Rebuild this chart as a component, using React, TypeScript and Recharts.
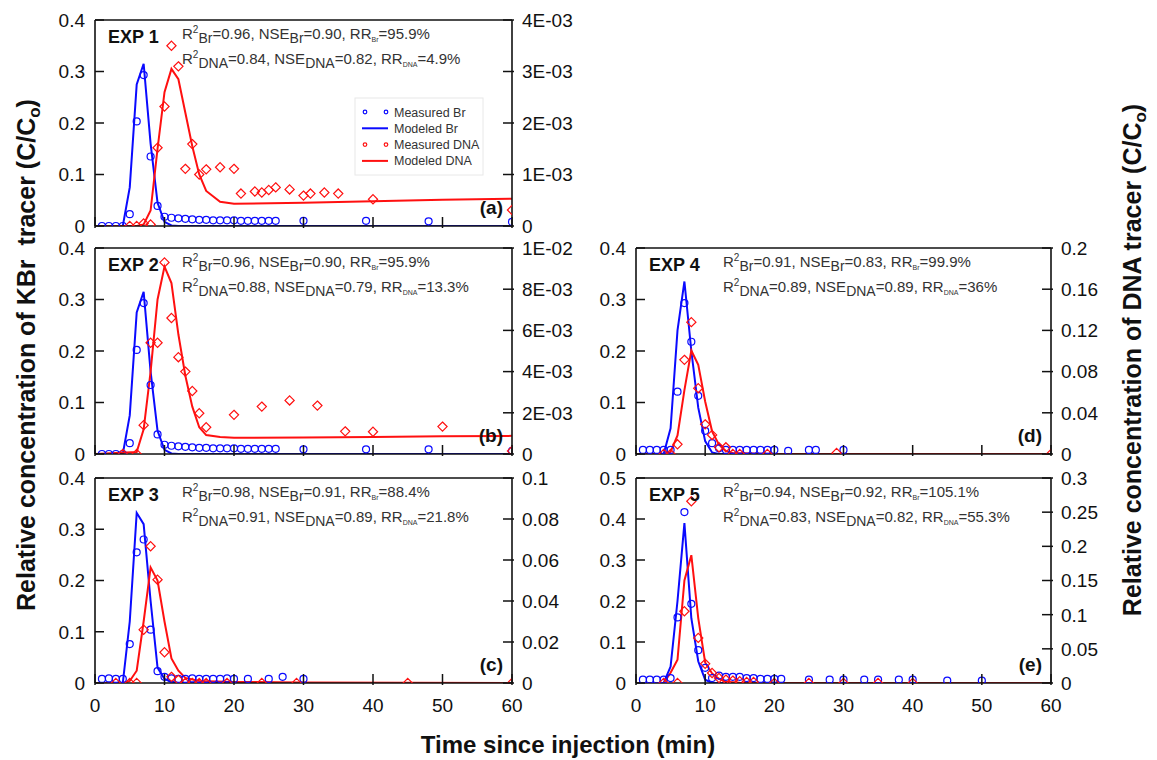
import React from "react";
import { ComposedChart, Line, Scatter, XAxis, YAxis, ReferenceLine } from "recharts";

type Pt = [number, number];

const FONT = '"Liberation Sans", Arial, Helvetica, sans-serif';
const BLUE = "#0a0aff";
const RED = "#ff1010";
const INK = "#111";

// time axis
const timeTicks = [0, 10, 20, 30, 40, 50, 60];

// KBr axis
const brTicks = [0, 0.1, 0.2, 0.3, 0.4];
const brTicksE = [0, 0.1, 0.2, 0.3, 0.4, 0.5];
const brLabels = ["0", "0.1", "0.2", "0.3", "0.4", "0.5"];

// DNA axis per panel
const dnaTicksA = [0, 0.001, 0.002, 0.003, 0.004];
const dnaLabelsA = ["0", "1E-03", "2E-03", "3E-03", "4E-03"];
const dnaTicksB = [0, 0.002, 0.004, 0.006, 0.008, 0.01];
const dnaLabelsB = ["0", "2E-03", "4E-03", "6E-03", "8E-03", "1E-02"];
const dnaTicksC = [0, 0.02, 0.04, 0.06, 0.08, 0.1];
const dnaLabelsC = ["0", "0.02", "0.04", "0.06", "0.08", "0.1"];
const dnaTicksD = [0, 0.04, 0.08, 0.12, 0.16, 0.2];
const dnaLabelsD = ["0", "0.04", "0.08", "0.12", "0.16", "0.2"];
const dnaTicksE = [0, 0.05, 0.1, 0.15, 0.2, 0.25, 0.3];
const dnaLabelsE = ["0", "0.05", "0.1", "0.15", "0.2", "0.25", "0.3"];

// EXP 1
const brObsA: Pt[] = [[1, 0], [2, 0], [3, 0], [4, 0], [5, 0.023], [6, 0.203], [7, 0.293], [8, 0.135], [9, 0.039], [10, 0.018], [11, 0.016], [12, 0.015], [13, 0.014], [14, 0.013], [15, 0.012], [16, 0.012], [17, 0.011], [18, 0.011], [19, 0.011], [20, 0.011], [21, 0.01], [22, 0.01], [23, 0.01], [24, 0.01], [25, 0.01], [26, 0.01], [30, 0.01], [39, 0.01], [48, 0.009], [60, 0.008]];
const brModA: Pt[] = [[0, 0], [4, 0], [5, 0.075], [6, 0.275], [7, 0.315], [8, 0.16], [9, 0.045], [10, 0.008], [11, 0.001], [12, 0], [60, 0]];
const dnaObsA: Pt[] = [[5, 0], [6, 0], [7, 0.00005], [8, 0.00003], [9, 0.00152], [10, 0.00232], [11, 0.0035], [12, 0.0031], [13, 0.00111], [14, 0.00159], [15, 0.001], [16, 0.0011], [18, 0.00114], [20, 0.00111], [21, 0.00063], [23, 0.00067], [24, 0.00065], [25, 0.0007], [26, 0.00075], [28, 0.00071], [30, 0.00059], [31, 0.00063], [33, 0.00065], [35, 0.00063], [40, 0.00052], [60, 0.00031]];
const dnaModA: Pt[] = [[0, 0], [6, 0], [7, 0.00003], [8, 0.0003], [9, 0.0015], [10, 0.0026], [11, 0.00305], [12, 0.00285], [13, 0.0022], [14, 0.00155], [15, 0.001], [16, 0.00068], [18, 0.00047], [20, 0.00043], [30, 0.00045], [40, 0.00048], [50, 0.00051], [60, 0.00053]];
const statsA = ["0.96", "0.90", "95.9%", "0.84", "0.82", "4.9%"];

// EXP 2
const brObsB: Pt[] = [[1, 0], [2, 0], [3, 0], [4, 0], [5, 0.021], [6, 0.202], [7, 0.293], [8, 0.134], [9, 0.038], [10, 0.018], [11, 0.016], [12, 0.015], [13, 0.014], [14, 0.013], [15, 0.012], [16, 0.012], [17, 0.011], [18, 0.011], [19, 0.011], [20, 0.011], [21, 0.01], [22, 0.01], [23, 0.01], [24, 0.01], [25, 0.01], [26, 0.01], [30, 0.009], [39, 0.009], [48, 0.009], [60, 0.006]];
const brModB: Pt[] = [[0, 0], [4, 0], [5, 0.075], [6, 0.275], [7, 0.315], [8, 0.16], [9, 0.045], [10, 0.008], [11, 0.001], [12, 0], [60, 0]];
const dnaObsB: Pt[] = [[4, 0], [6, 0], [7, 0.0014], [8, 0.0054], [9, 0.0054], [10, 0.0093], [11, 0.0066], [12, 0.0047], [13, 0.004], [14, 0.00306], [15, 0.00198], [16, 0.0013], [20, 0.0019], [24, 0.0023], [28, 0.0026], [32, 0.00235], [36, 0.0011], [40, 0.00108], [50, 0.00133], [60, 0.00015]];
const dnaModB: Pt[] = [[0, 0], [6, 0.0001], [7, 0.0012], [8, 0.004], [9, 0.0075], [10, 0.0091], [11, 0.0083], [12, 0.0058], [13, 0.0038], [14, 0.0023], [15, 0.0013], [16, 0.00092], [18, 0.00082], [20, 0.00079], [30, 0.0008], [40, 0.00083], [50, 0.00086], [60, 0.00088]];
const statsB = ["0.96", "0.90", "95.9%", "0.88", "0.79", "13.3%"];

// EXP 3
const brObsC: Pt[] = [[1, 0.008], [2, 0.009], [3, 0.008], [4, 0.008], [5, 0.076], [6, 0.255], [7, 0.28], [8, 0.104], [9, 0.023], [10, 0.012], [11, 0.009], [12, 0.008], [13, 0.008], [14, 0.009], [15, 0.008], [16, 0.008], [17, 0.008], [18, 0.008], [19, 0.009], [20, 0.008], [22, 0.008], [25, 0.008], [27, 0.012], [30, 0.008]];
const brModC: Pt[] = [[0, 0], [4, 0], [5, 0.12], [6, 0.332], [7, 0.31], [8, 0.16], [9, 0.03], [10, 0.008], [11, 0.002], [12, 0], [60, 0]];
const dnaObsC: Pt[] = [[3, 0], [5, 0], [6, 0], [7, 0.026], [8, 0.0667], [9, 0.0504], [10, 0.015], [11, 0.003], [12, 0.0015], [13, 0], [14, 0], [15, 0], [16, 0], [19, 0], [24, 0], [29, 0], [45, 0], [60, 0]];
const dnaModC: Pt[] = [[0, 0], [4, 0], [5, 0.001], [6, 0.006], [7, 0.03], [8, 0.0564], [9, 0.05], [10, 0.03], [11, 0.012], [12, 0.006], [13, 0.0025], [15, 0.001], [20, 0.0005], [30, 0.0003], [60, 0]];
const statsC = ["0.98", "0.91", "88.4%", "0.91", "0.89", "21.8%"];

// EXP 4
const brObsD: Pt[] = [[1, 0.008], [2, 0.008], [3, 0.008], [4, 0.008], [5, 0.008], [6, 0.121], [7, 0.293], [8, 0.218], [9, 0.113], [10, 0.045], [11, 0.021], [12, 0.011], [13, 0.008], [14, 0.008], [15, 0.008], [16, 0.008], [17, 0.008], [18, 0.008], [19, 0.008], [20, 0.008], [22, 0.006], [25, 0.008], [26, 0.008], [30, 0.008]];
const brModD: Pt[] = [[0, 0], [4, 0], [5, 0.05], [6, 0.24], [7, 0.335], [8, 0.2], [9, 0.09], [10, 0.025], [11, 0.003], [12, 0], [60, 0]];
const dnaObsD: Pt[] = [[4, 0], [5, 0], [6, 0.0094], [7, 0.0914], [8, 0.128], [9, 0.0639], [10, 0.0288], [11, 0.0185], [12, 0.0065], [13, 0.0065], [14, 0], [15, 0], [19, 0], [29, 0.001], [60, 0]];
const dnaModD: Pt[] = [[0, 0], [4, 0], [5, 0.002], [6, 0.018], [7, 0.062], [8, 0.1005], [9, 0.0866], [10, 0.051], [11, 0.022], [12, 0.009], [13, 0.003], [14, 0.001], [20, 0], [60, 0]];
const statsD = ["0.91", "0.83", "99.9%", "0.89", "0.89", "36%"];

// EXP 5
const brObsE: Pt[] = [[1, 0.008], [2, 0.008], [3, 0.008], [4, 0.008], [5, 0.012], [6, 0.16], [7, 0.417], [8, 0.193], [9, 0.08], [10, 0.037], [11, 0.012], [12, 0.018], [13, 0.015], [14, 0.015], [15, 0.015], [16, 0.012], [17, 0.012], [18, 0.01], [19, 0.01], [20, 0.01], [21, 0.01], [25, 0.008], [28, 0.008], [30, 0.008], [33, 0.008], [35, 0.008], [38, 0.008], [40, 0.008], [45, 0.006], [50, 0.006]];
const brModE: Pt[] = [[0, 0], [4, 0], [5, 0.04], [6, 0.2], [7, 0.39], [8, 0.158], [9, 0.053], [10, 0.008], [11, 0], [60, 0]];
const dnaObsE: Pt[] = [[4, 0], [6, 0], [7, 0.105], [8, 0.266], [9, 0.066], [10, 0.028], [11, 0.0146], [12, 0.0073], [13, 0.005], [14, 0.0035], [15, 0.0025], [16, 0.0015], [17, 0.0015], [20, 0], [25, 0], [30, 0], [35, 0], [40, 0]];
const dnaModE: Pt[] = [[0, 0], [4, 0], [5, 0.015], [6, 0.034], [7, 0.15], [8, 0.187], [9, 0.095], [10, 0.03], [11, 0.014], [12, 0.006], [13, 0.002], [15, 0.0005], [20, 0], [60, 0]];
const statsE = ["0.94", "0.92", "105.1%", "0.83", "0.82", "55.3%"];

const rows = (pts: Pt[]) => pts.map(([t, v]) => ({ t, v }));

const findLabel = (ticks: number[], labels: string[], value: number) => {
  const i = ticks.findIndex((t) => Math.abs(t - value) < 1e-9);
  return i >= 0 ? labels[i] : "";
};

const leftTick = (ticks: number[], labels: string[]) => (p: any) => (
  <g>
    <line x1={p.x} x2={p.x + 9} y1={p.y} y2={p.y} stroke={INK} strokeWidth={1.5} />
    <text x={p.x - 10} y={p.y} dy="0.36em" textAnchor="end" fontSize={19} fill={INK} fontFamily={FONT}>
      {findLabel(ticks, labels, p.payload.value)}
    </text>
  </g>
);

const rightTick = (ticks: number[], labels: string[]) => (p: any) => (
  <g>
    <line x1={p.x - 9} x2={p.x + 2} y1={p.y} y2={p.y} stroke={INK} strokeWidth={1.5} />
    <text x={p.x + 10} y={p.y} dy="0.36em" textAnchor="start" fontSize={19} fill={INK} fontFamily={FONT}>
      {findLabel(ticks, labels, p.payload.value)}
    </text>
  </g>
);

const timeTick = (show: boolean) => (p: any) => (
  <g>
    <line x1={p.x} x2={p.x} y1={p.y - 9} y2={p.y + 2} stroke={INK} strokeWidth={1.5} />
    {show && (
      <text x={p.x} y={p.y + 29} textAnchor="middle" fontSize={19} fill={INK} fontFamily={FONT}>
        {p.payload.value}
      </text>
    )}
  </g>
);

const circleShape = (p: any) => (
  <circle cx={p.cx} cy={p.cy} r={3.5} fill="none" stroke={BLUE} strokeWidth={1.2} />
);

const diamondShape = (p: any) => (
  <path
    d={`M${p.cx},${p.cy - 4.6}L${p.cx + 4.6},${p.cy}L${p.cx},${p.cy + 4.6}L${p.cx - 4.6},${p.cy}Z`}
    fill="none"
    stroke={RED}
    strokeWidth={1.2}
  />
);

type Box = { x: number; y: number; w: number; h: number };

interface PanelProps {
  box: Box;
  brObs: Pt[];
  brMod: Pt[];
  dnaObs: Pt[];
  dnaMod: Pt[];
  brTickVals: number[];
  dnaTickVals: number[];
  dnaTickLabels: string[];
  showTime: boolean;
}

function Panel({ box, brObs, brMod, dnaObs, dnaMod, brTickVals, dnaTickVals, dnaTickLabels, showTime }: PanelProps) {
  const padL = 60;
  const padR = 80;
  const padT = 10;
  const padB = 35;
  const brMax = brTickVals[brTickVals.length - 1];
  const dnaMax = dnaTickVals[dnaTickVals.length - 1];
  const axisLine = { stroke: INK, strokeWidth: 1.6 };
  return (
    <div style={{ position: "absolute", left: box.x - padL, top: box.y - padT }}>
      <ComposedChart
        width={box.w + padL + padR}
        height={box.h + padT + padB}
        margin={{ top: padT, right: 0, bottom: 0, left: 0 }}
      >
        <XAxis
          dataKey="t"
          type="number"
          domain={[0, 60]}
          ticks={timeTicks}
          interval={0}
          height={padB}
          tickSize={0}
          tickMargin={0}
          tickLine={false}
          axisLine={axisLine}
          tick={timeTick(showTime)}
          allowDataOverflow
        />
        <YAxis
          yAxisId="l"
          dataKey="v"
          type="number"
          domain={[0, brMax]}
          ticks={brTickVals}
          interval={0}
          width={padL}
          tickSize={0}
          tickMargin={0}
          tickLine={false}
          axisLine={axisLine}
          tick={leftTick(brTickVals, brLabels)}
          allowDataOverflow
        />
        <YAxis
          yAxisId="r"
          dataKey="v"
          orientation="right"
          type="number"
          domain={[0, dnaMax]}
          ticks={dnaTickVals}
          interval={0}
          width={padR}
          tickSize={0}
          tickMargin={0}
          tickLine={false}
          axisLine={axisLine}
          tick={rightTick(dnaTickVals, dnaTickLabels)}
          allowDataOverflow
        />
        <ReferenceLine yAxisId="l" y={brMax} stroke={INK} strokeWidth={1.6} />
        <Scatter yAxisId="l" data={rows(brObs)} dataKey="v" shape={circleShape} isAnimationActive={false} />
        <Scatter yAxisId="r" data={rows(dnaObs)} dataKey="v" shape={diamondShape} isAnimationActive={false} />
        <Line yAxisId="l" data={rows(brMod)} dataKey="v" type="linear" stroke={BLUE} strokeWidth={2} dot={false} isAnimationActive={false} />
        <Line yAxisId="r" data={rows(dnaMod)} dataKey="v" type="linear" stroke={RED} strokeWidth={2} dot={false} isAnimationActive={false} />
      </ComposedChart>
    </div>
  );
}

function StatLine({ x, y, sub, r2, nse, rr }: { x: number; y: number; sub: string; r2: string; nse: string; rr: string }) {
  return (
    <text x={x} y={y} fontSize={15} fill="#333" fontFamily={FONT}>
      R<tspan dy={-6} fontSize={10}>2</tspan>
      <tspan dy={10} fontSize={14}>{sub}</tspan>
      <tspan dy={-4}>={r2}, NSE</tspan>
      <tspan dy={4} fontSize={14}>{sub}</tspan>
      <tspan dy={-4}>={nse}, RR</tspan>
      <tspan dy={3} fontSize={7}>{sub}</tspan>
      <tspan dy={-3}>={rr}</tspan>
    </text>
  );
}

function PanelText({ box, name, letter, stats }: { box: Box; name: string; letter: string; stats: string[] }) {
  return (
    <g>
      <text x={box.x + 13} y={box.y + 23} fontSize={18} fontWeight="bold" fill={INK} fontFamily={FONT}>
        {name}
      </text>
      <StatLine x={box.x + 87} y={box.y + 19} sub="Br" r2={stats[0]} nse={stats[1]} rr={stats[2]} />
      <StatLine x={box.x + 87} y={box.y + 44} sub="DNA" r2={stats[3]} nse={stats[4]} rr={stats[5]} />
      <text x={box.x + box.w - 9} y={box.y + box.h - 12} textAnchor="end" fontSize={19} fontWeight="bold" fill={INK} fontFamily={FONT}>
        {letter}
      </text>
    </g>
  );
}

const legendItems = [
  { label: "Measured Br", kind: "dot", color: BLUE },
  { label: "Modeled Br", kind: "line", color: BLUE },
  { label: "Measured DNA", kind: "dot", color: RED },
  { label: "Modeled DNA", kind: "line", color: RED },
];

function LegendBox({ x, y }: { x: number; y: number }) {
  return (
    <g>
      <rect x={x} y={y} width={128} height={77} fill="#fff" stroke="#e8e8e8" strokeWidth={1} />
      {legendItems.map((it, i) => {
        const cy = y + 14 + i * 16.3;
        return (
          <g key={it.label}>
            {it.kind === "line" ? (
              <line x1={x + 7} x2={x + 33} y1={cy} y2={cy} stroke={it.color} strokeWidth={2} />
            ) : (
              <g>
                <circle cx={x + 10} cy={cy} r={1.8} fill="none" stroke={it.color} strokeWidth={1.2} />
                <circle cx={x + 31} cy={cy} r={1.8} fill="none" stroke={it.color} strokeWidth={1.2} />
              </g>
            )}
            <text x={x + 39} y={cy} dy="0.36em" fontSize={12.5} fill="#333" fontFamily={FONT}>
              {it.label}
            </text>
          </g>
        );
      })}
    </g>
  );
}

const boxA: Box = { x: 95, y: 20, w: 417, h: 206 };
const boxB: Box = { x: 95, y: 248, w: 417, h: 206 };
const boxC: Box = { x: 95, y: 478, w: 417, h: 205 };
const boxD: Box = { x: 636, y: 248, w: 415, h: 206 };
const boxE: Box = { x: 636, y: 478, w: 415, h: 205 };

export default function App() {
  return (
    <div style={{ position: "absolute", left: 0, top: 0, width: 1157, height: 760, background: "#fff", fontFamily: FONT }}>
      <Panel box={boxA} brObs={brObsA} brMod={brModA} dnaObs={dnaObsA} dnaMod={dnaModA} brTickVals={brTicks} dnaTickVals={dnaTicksA} dnaTickLabels={dnaLabelsA} showTime={false} />
      <Panel box={boxB} brObs={brObsB} brMod={brModB} dnaObs={dnaObsB} dnaMod={dnaModB} brTickVals={brTicks} dnaTickVals={dnaTicksB} dnaTickLabels={dnaLabelsB} showTime={false} />
      <Panel box={boxC} brObs={brObsC} brMod={brModC} dnaObs={dnaObsC} dnaMod={dnaModC} brTickVals={brTicks} dnaTickVals={dnaTicksC} dnaTickLabels={dnaLabelsC} showTime={true} />
      <Panel box={boxD} brObs={brObsD} brMod={brModD} dnaObs={dnaObsD} dnaMod={dnaModD} brTickVals={brTicks} dnaTickVals={dnaTicksD} dnaTickLabels={dnaLabelsD} showTime={false} />
      <Panel box={boxE} brObs={brObsE} brMod={brModE} dnaObs={dnaObsE} dnaMod={dnaModE} brTickVals={brTicksE} dnaTickVals={dnaTicksE} dnaTickLabels={dnaLabelsE} showTime={true} />
      <svg width={1157} height={760} style={{ position: "absolute", left: 0, top: 0, pointerEvents: "none" }}>
        <PanelText box={boxA} name="EXP 1" letter="(a)" stats={statsA} />
        <PanelText box={boxB} name="EXP 2" letter="(b)" stats={statsB} />
        <PanelText box={boxC} name="EXP 3" letter="(c)" stats={statsC} />
        <PanelText box={boxD} name="EXP 4" letter="(d)" stats={statsD} />
        <PanelText box={boxE} name="EXP 5" letter="(e)" stats={statsE} />
        <LegendBox x={355} y={98} />
        <text transform="translate(35,355) rotate(-90)" textAnchor="middle" fontSize={25} fontWeight="bold" fill={INK} fontFamily={FONT}>
          Relative concentration of KBr{"\u00a0 "}tracer (C/C<tspan dy={5} fontSize={17}>o</tspan>
          <tspan dy={-5}>)</tspan>
        </text>
        <text transform="translate(1141,360) rotate(-90)" textAnchor="middle" fontSize={25} fontWeight="bold" fill={INK} fontFamily={FONT}>
          Relative concentration of DNA tracer (C/C<tspan dy={5} fontSize={17}>o</tspan>
          <tspan dy={-5}>)</tspan>
        </text>
        <text x={568} y={753} textAnchor="middle" fontSize={24} fontWeight="bold" fill={INK} fontFamily={FONT}>
          Time since injection (min)
        </text>
      </svg>
    </div>
  );
}
